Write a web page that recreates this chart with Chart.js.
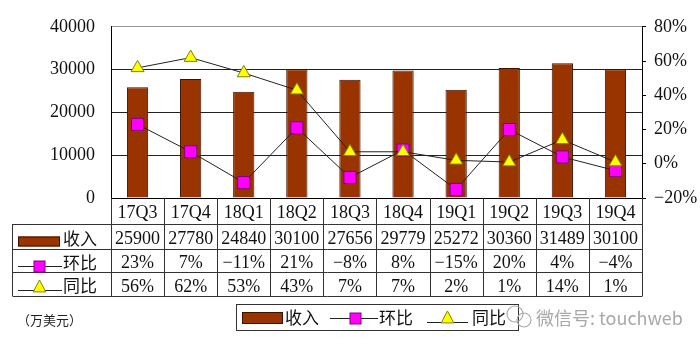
<!DOCTYPE html>
<html><head><meta charset="utf-8">
<script src="https://cdn.jsdelivr.net/npm/chart.js@4/dist/chart.umd.min.js"></script>
<style>html,body{margin:0;padding:0;background:#fff;}canvas{display:block}</style>
</head><body>
<canvas id="c" width="700" height="347"></canvas>
<script>
const categories = ['17Q3','17Q4','18Q1','18Q2','18Q3','18Q4','19Q1','19Q2','19Q3','19Q4'];
const revenue = [25900,27780,24840,30100,27656,29779,25272,30360,31489,30100];
const qoq = [23,7,-11,21,-8,8,-15,20,4,-4];
const yoy = [56,62,53,43,7,7,2,1,14,1];
const seriesNames = ['收入','环比','同比'];
const unitLabel = '（万美元）';
const watermark = '微信号: touchweb';

const NUM_FONT = '18px "Liberation Serif", serif';
const CJK_FONT = '17px "Noto Sans CJK SC", sans-serif';
const BAR_COLOR = '#993300', BAR_BORDER = '#3a1200';
const SQ_COLOR = '#FF00FF', SQ_BORDER = '#800080';
const TRI_COLOR = '#FFFF00', TRI_BORDER = '#808000';
const LINE_COLOR = '#222';

function fmtPct(v){ return (v < 0 ? '\u2212' + Math.abs(v) : String(v)) + '%'; }

function drawSquare(ctx, x, y, s){
  ctx.fillStyle = SQ_COLOR; ctx.strokeStyle = SQ_BORDER; ctx.lineWidth = 1;
  ctx.fillRect(x - s/2, y - s/2, s, s); ctx.strokeRect(x - s/2, y - s/2, s, s);
}
function drawTri(ctx, x, y, r){
  ctx.beginPath();
  ctx.moveTo(x, y - r); ctx.lineTo(x + r*0.9, y + r*0.7); ctx.lineTo(x - r*0.9, y + r*0.7); ctx.closePath();
  ctx.fillStyle = TRI_COLOR; ctx.fill(); ctx.strokeStyle = TRI_BORDER; ctx.lineWidth = 1; ctx.stroke();
}
function hline(ctx, x1, x2, y){ ctx.beginPath(); ctx.moveTo(x1, y); ctx.lineTo(x2, y); ctx.stroke(); }
function vline(ctx, x, y1, y2){ ctx.beginPath(); ctx.moveTo(x, y1); ctx.lineTo(x, y2); ctx.stroke(); }

const tablePlugin = {
  id: 'dataTable',
  afterDraw(chart){
    const ctx = chart.ctx, xs = chart.scales.x, area = chart.chartArea;
    const n = categories.length;
    const step = xs.getPixelForValue(1) - xs.getPixelForValue(0);
    const left0 = xs.getPixelForValue(0) - step/2;
    const right0 = xs.getPixelForValue(n - 1) + step/2;
    const tableLeft = 12.5;
    const b = area.bottom;
    const rows = [b + 26, b + 51, b + 74, b + 98];
    ctx.save();
    ctx.strokeStyle = '#333'; ctx.lineWidth = 1;
    for (let i = 0; i <= n; i++) {
      const x = Math.round(left0 + i*step) + 0.5;
      vline(ctx, x, b, rows[3]);
    }
    vline(ctx, tableLeft, rows[0], rows[3]);
    rows.forEach(y => hline(ctx, tableLeft, Math.round(right0) + 0.5, Math.round(y) + 0.5));

    // row values
    const rowData = [revenue.map(String), qoq.map(fmtPct), yoy.map(fmtPct)];
    ctx.fillStyle = '#111'; ctx.font = NUM_FONT; ctx.textAlign = 'center'; ctx.textBaseline = 'middle';
    rowData.forEach((vals, r) => {
      const cy = (rows[r] + rows[r+1]) / 2 + 3;
      vals.forEach((v, i) => ctx.fillText(v, xs.getPixelForValue(i), cy));
    });

    // row headers
    ctx.font = CJK_FONT; ctx.textAlign = 'left';
    let cy = (rows[0] + rows[1]) / 2;
    ctx.fillStyle = BAR_COLOR; ctx.fillRect(18, cy, 42, 10);
    ctx.strokeStyle = BAR_BORDER; ctx.strokeRect(18.5, cy + 0.5, 41, 9);
    ctx.fillStyle = '#111'; ctx.fillText(seriesNames[0], 63, cy + 2);
    cy = (rows[1] + rows[2]) / 2;
    ctx.strokeStyle = LINE_COLOR; hline(ctx, 18, 62, Math.round(cy + 5) + 0.5);
    drawSquare(ctx, 39.5, Math.round(cy + 5) + 0.5, 11);
    ctx.fillStyle = '#111'; ctx.fillText(seriesNames[1], 63, cy + 2);
    cy = (rows[2] + rows[3]) / 2;
    ctx.strokeStyle = LINE_COLOR; hline(ctx, 18, 62, Math.round(cy + 6) + 0.5);
    drawTri(ctx, 39.5, cy + 3, 7);
    ctx.fillStyle = '#111'; ctx.fillText(seriesNames[2], 63, cy + 2);

    // unit label
    ctx.font = '13px "Noto Sans CJK SC", sans-serif';
    ctx.fillStyle = '#222';
    ctx.fillText(unitLabel, 17, b + 122);

    // legend box
    const lt = b + 106, lb = b + 132, ll = 236.5, lr = 518.5;
    ctx.strokeStyle = '#333'; ctx.lineWidth = 1;
    ctx.strokeRect(ll, lt + 0.5, lr - ll, lb - lt);
    const ly = (lt + lb) / 2 + 1;
    ctx.fillStyle = BAR_COLOR; ctx.fillRect(242, ly - 6, 41, 12);
    ctx.strokeStyle = BAR_BORDER; ctx.strokeRect(242.5, ly - 5.5, 40, 11);
    ctx.font = CJK_FONT; ctx.fillStyle = '#111'; ctx.textAlign = 'left';
    ctx.fillText(chart.data.datasets[0].label, 285, ly);
    ctx.strokeStyle = LINE_COLOR; hline(ctx, 330, 378, Math.round(ly) + 0.5);
    drawSquare(ctx, 355.5, Math.round(ly) + 0.5, 11);
    ctx.fillStyle = '#111'; ctx.fillText(chart.data.datasets[1].label, 379, ly);
    ctx.strokeStyle = LINE_COLOR; hline(ctx, 427, 468, Math.round(ly + 4) + 0.5);
    drawTri(ctx, 447.5, ly, 7);
    ctx.fillStyle = '#111'; ctx.fillText(chart.data.datasets[2].label, 472, ly);

    // watermark
    ctx.strokeStyle = '#aaa'; ctx.lineWidth = 1.2;
    ctx.beginPath(); ctx.arc(515, b + 116, 8, 0, Math.PI*2); ctx.stroke();
    ctx.beginPath(); ctx.arc(524, b + 122, 7, 0, Math.PI*2); ctx.stroke();
    ctx.font = '18px "Noto Sans CJK SC", sans-serif';
    ctx.fillStyle = '#a8a8a8';
    ctx.fillText(watermark, 536, b + 120);
    ctx.restore();
  }
};

new Chart(document.getElementById('c'), {
  data: {
    labels: categories,
    datasets: [
      { type: 'bar', label: seriesNames[0], data: revenue, yAxisID: 'y', order: 2,
        backgroundColor: BAR_COLOR, borderColor: BAR_BORDER, borderWidth: 1,
        categoryPercentage: 1, barPercentage: 0.4 },
      { type: 'line', label: seriesNames[1], data: qoq, yAxisID: 'y1', order: 1,
        borderColor: LINE_COLOR, borderWidth: 1, tension: 0,
        pointStyle: 'rect', pointRadius: 8.5, pointBackgroundColor: SQ_COLOR,
        pointBorderColor: SQ_BORDER, pointBorderWidth: 1 },
      { type: 'line', label: seriesNames[2], data: yoy, yAxisID: 'y1', order: 0,
        borderColor: LINE_COLOR, borderWidth: 1, tension: 0,
        pointStyle: 'triangle', pointRadius: 7.5, pointBackgroundColor: TRI_COLOR,
        pointBorderColor: TRI_BORDER, pointBorderWidth: 1 }
    ]
  },
  options: {
    responsive: false, animation: false,
    layout: { padding: { top: 15, left: 0, right: 0, bottom: 0 } },
    plugins: { legend: { display: false }, tooltip: { enabled: false } },
    scales: {
      x: {
        offset: true,
        grid: { display: false, drawTicks: false },
        border: { display: true, color: '#000', width: 1 },
        ticks: { font: { family: '"Liberation Serif", serif', size: 18 }, color: '#111', padding: 4, maxRotation: 0 },
        afterFit(s){ s.height = 149; }
      },
      y: {
        position: 'left', min: 0, max: 40000,
        ticks: { stepSize: 10000, font: { family: '"Liberation Serif", serif', size: 18 }, color: '#111', padding: 16,
          callback: v => String(v) },
        grid: { drawTicks: false, color: c => c.tick && c.tick.value === 40000 ? '#999' : '#222', lineWidth: 1 },
        border: { display: true, color: '#000', width: 1 },
        afterFit(s){ s.width = 111; }
      },
      y1: {
        position: 'right', min: -20, max: 80,
        ticks: { stepSize: 20, font: { family: '"Liberation Serif", serif', size: 18 }, color: '#111', padding: 8,
          callback: v => fmtPct(v) },
        grid: { drawOnChartArea: false, drawTicks: true, tickLength: 4, color: '#000' },
        border: { display: true, color: '#000', width: 1 },
        afterFit(s){ s.width = 58; }
      }
    }
  },
  plugins: [tablePlugin]
});
</script>
</body></html>
